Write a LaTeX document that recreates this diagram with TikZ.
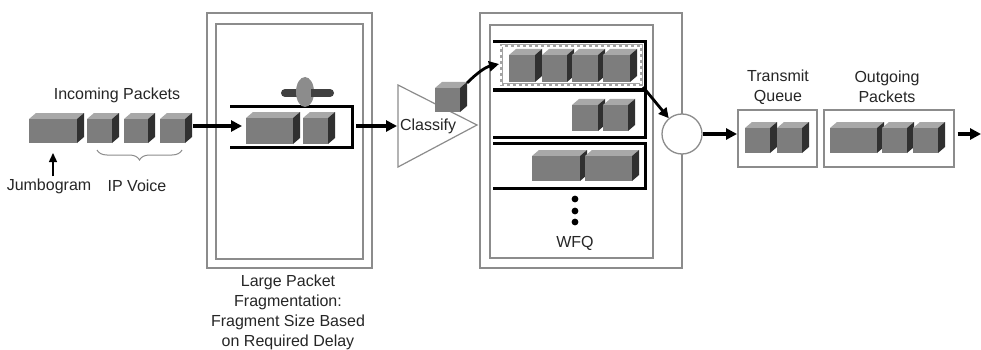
\documentclass[tikz,border=0pt]{standalone}
\usepackage{fontspec}
\setmainfont{Liberation Sans}
\usetikzlibrary{arrows.meta,decorations.pathreplacing}
\definecolor{pfront}{HTML}{7D7D7D}
\definecolor{ptop}{HTML}{A8A8A8}
\definecolor{pside}{HTML}{303030}
\definecolor{framegray}{HTML}{8C8C8C}
% a packet drawn as a box: front face from (x1,y1) to (x2,y2), y grows downward
\newcommand\pkt[4]{%
  \fill[ptop] (#1,#2) -- (#1+7,#2-6) -- (#3+7,#2-6) -- (#3,#2) -- cycle;
  \fill[pside] (#3,#2) -- (#3+7,#2-6) -- (#3+7,#4-6) -- (#3,#4) -- cycle;
  \fill[pfront] (#1,#2) rectangle (#3,#4);}
\begin{document}
\begin{tikzpicture}[x=1pt,y=-1pt,
  every node/.style={font=\fontsize{16}{20}\selectfont, inner sep=0pt},
  frame/.style={draw=framegray, line width=1.3pt},
  flow/.style={line width=3.2pt, -{Triangle[length=11pt,width=11pt]}},
  lane/.style={line width=3pt},
  label/.style={align=center, text=black!85}]
\useasboundingbox (0,0) rectangle (981,350);
\fill[white] (0,0) rectangle (981,350);

% ---------- incoming packets ----------
\node[label] (inTitle) at (117,95) {Incoming Packets};
\pkt{29}{119}{77}{143}
\pkt{87}{119}{112}{143}
\pkt{124}{119}{148}{143}
\pkt{160}{119}{185}{143}
\draw[framegray, line width=1pt, decorate, decoration={brace, amplitude=10pt, mirror}]
  (97,150) -- (182,150);
\node[label] (jumbo) at (49,186) {Jumbogram};
\node[label] (voice) at (137,186) {IP Voice};
\coordinate (jumboTip) at (53,153);
\draw[line width=1.4pt, -{Triangle[length=9pt,width=8pt]}] (jumbo.north -| jumboTip) ++(0,-2) -- (jumboTip);

% ---------- fragmentation stage ----------
\node[frame, minimum width=165, minimum height=255] (fragOuter) at (289.5,140.5) {};
\node[frame, minimum width=147, minimum height=235] (fragInner) at (289.5,141.5) {};
\draw[lane] (230,107) -- (352,107) -- (352,147) -- (230,147);
\pkt{246}{118}{293}{144}
\pkt{303}{118}{328}{144}
% the cutter
\draw[draw=black!75, line width=8pt, line cap=round] (285,93) -- (330,93);
\fill[black!45] (305,92) ellipse [x radius=9, y radius=15];
\draw[draw=black!75, line width=8pt] (311,93) -- (315,93);
\node[label, align=center] (fragText) at (288,312)
  {Large Packet\\Fragmentation:\\Fragment Size Based\\on Required Delay};
\coordinate (inEnd) at (193,126);
\coordinate (fragIn) at (242,126);
\draw[flow] (inEnd) -- (fragIn);

% ---------- classifier ----------
\draw[framegray, line width=1.2pt, fill=white] (398,85) -- (477,125) -- (398,167) -- cycle;
\node[label] (classify) at (428,126) {Classify};
\coordinate (fragOut) at (356,126);
\coordinate (clsIn) at (397,126);
\draw[flow] (fragOut) -- (clsIn);
\pkt{435}{88}{460}{112}

% ---------- WFQ ----------
\node[frame, minimum width=202, minimum height=255] (wfqOuter) at (581,140.5) {};
\node[frame, minimum width=163, minimum height=233] (wfqInner) at (571.5,141.5) {};
% queue 1 with the selected flow
\draw[lane] (493,42) -- (645,42) -- (645,90);
\draw[line width=4.5pt] (493,90) -- (647,90);
\draw[framegray!80, line width=3pt] (501,46) rectangle (641,85);
\draw[white, line width=1.2pt, dash pattern=on 3pt off 3pt] (501,46) rectangle (641,85);
\pkt{509}{55}{535}{82}
\pkt{542}{55}{567}{82}
\pkt{572}{55}{598}{82}
\pkt{603}{55}{630}{82}
% queue 2
\draw[lane] (645,90) -- (645,137) -- (493,137);
\pkt{572}{105}{598}{131}
\pkt{603}{105}{628}{131}
% queue 3
\draw[lane] (493,143) -- (645,143) -- (645,188) -- (493,188);
\pkt{532}{156}{580}{181}
\pkt{585}{156}{632}{181}
% more queues
\foreach \yy in {199,211,222} \fill (575,\yy) circle [radius=3.4];
\node[label] (wfq) at (575,243) {WFQ};
\coordinate (clsPkt) at (467,83);
\coordinate (q1In) at (499,64);
\draw[line width=2.8pt, -{Triangle[length=10pt,width=10pt]}]
  (clsPkt) .. controls (478,72) and (486,67) .. (q1In);

% scheduler
\node[circle, draw=framegray, line width=1.3pt, fill=white, minimum size=40] (sched) at (682,134) {};
\coordinate (q1Out) at (643,87);
\draw[line width=2.8pt, -{Triangle[length=10pt,width=10pt]}] (q1Out) -- (sched.130);

% ---------- transmit queue and outgoing packets ----------
\node[label] (txTitle) at (778,87) {Transmit\\Queue};
\node[label] (outTitle) at (887,87) {Outgoing\\Packets};
\node[frame, minimum width=79, minimum height=57] (txBox) at (777.5,138.5) {};
\node[frame, minimum width=130, minimum height=57] (outBox) at (889,138.5) {};
\pkt{745}{128}{770}{153}
\pkt{777}{128}{802}{153}
\pkt{830}{128}{877}{153}
\pkt{882}{128}{907}{153}
\pkt{913}{128}{938}{153}
\coordinate (txIn) at (737,134);
\draw[flow] (sched.east) -- (txIn);
\coordinate (outEnd) at (981,134);
\draw[flow] (outBox.east) ++(3,-4.5) coordinate (outStart) -- (outEnd);
\end{tikzpicture}
\end{document}
